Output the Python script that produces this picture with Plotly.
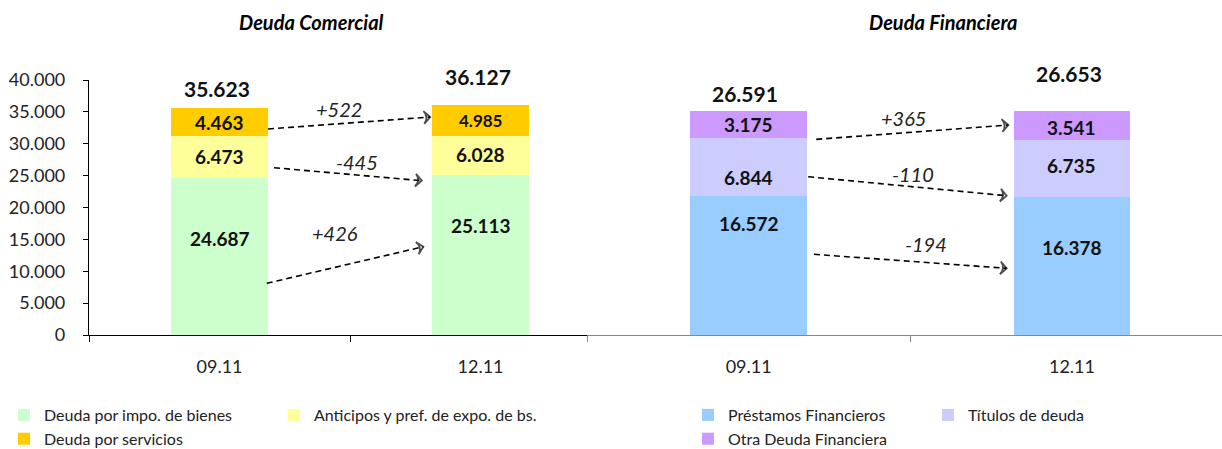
import plotly.graph_objects as go

# ---------------- data ----------------
dates = ["09.11", "12.11"]

com_names = ["Deuda por impo. de bienes", "Anticipos y pref. de expo. de bs.", "Deuda por servicios"]
com_impo = [24687, 25113]
com_antic = [6473, 6028]
com_serv = [4463, 4985]
com_total = [35623, 36127]
com_delta = [522, -445, 426]          # servicios, anticipos, impo

fin_names = ["Préstamos Financieros", "Títulos de deuda", "Otra Deuda Financiera"]
fin_prest = [16572, 16378]
fin_tit = [6844, 6735]
fin_otra = [3175, 3541]
fin_total = [26591, 26653]
fin_delta = [365, -110, -194]         # otra, titulos, prestamos

y_ticks = [0, 5000, 10000, 15000, 20000, 25000, 30000, 35000, 40000]

# ---------------- styling ----------------
FONT = "Lato"
com_colors = ["#CCFFCC", "#FFFF99", "#FFCC00"]
fin_colors = ["#99CCFF", "#CCCCFF", "#CC99FF"]
W, H = 1222, 449


def px_x(p):
    return p / W


def px_y(p):
    return (H - p) / H


def fmt(v):
    return f"{v:,}".replace(",", ".")


def fmt_delta(v):
    return ("+" if v > 0 else "") + fmt(v)


fig = go.Figure()
xs = [0, 1]

# bars
com_series = [com_impo, com_antic, com_serv]
fin_series = [fin_prest, fin_tit, fin_otra]
com_legend = ["legend", "legend2", "legend"]
fin_legend = ["legend3", "legend4", "legend3"]
for name, vals, col, lg in zip(com_names, com_series, com_colors, com_legend):
    fig.add_trace(go.Bar(x=xs, y=vals, name=name, marker=dict(color=col, line=dict(width=0)),
                         width=0.37, xaxis="x", yaxis="y", legend=lg, hoverinfo="y"))
for name, vals, col, lg in zip(fin_names, fin_series, fin_colors, fin_legend):
    fig.add_trace(go.Bar(x=xs, y=vals, name=name, marker=dict(color=col, line=dict(width=0)),
                         width=0.36, xaxis="x2", yaxis="y2", legend=lg, hoverinfo="y"))

annotations = []

# in-bar labels (relative position of label within each segment)
com_label_pos = [[0.616, 0.681], [0.5, 0.52], [0.5, 0.5]]
fin_label_pos = [[0.803, 0.638], [0.32, 0.567], [0.5, 0.45]]
com_label_size = [[19, 19], [19, 19], [19, 17]]


def add_segment_labels(series, pos, xref, yref, sizes=None):
    for i in range(2):
        base = 0
        for s, vals in enumerate(series):
            v = vals[i]
            annotations.append(dict(
                x=xs[i], y=base + v * pos[s][i], xref=xref, yref=yref, text=f"<b>{fmt(v)}</b>",
                xanchor="center", yanchor="middle",
                showarrow=False, font=dict(family=FONT, size=(sizes[s][i] if sizes else 19), color="#111")))
            base += v


add_segment_labels(com_series, com_label_pos, "x", "y", com_label_size)
add_segment_labels(fin_series, fin_label_pos, "x2", "y2")

# totals
com_total_shift = [19, 28]
fin_total_shift = [18, 37]
for i in range(2):
    annotations.append(dict(x=xs[i] - 0.01, y=sum(s[i] for s in com_series), xref="x", yref="y",
                            text=f"<b>{fmt(com_total[i])}</b>", showarrow=False, yshift=com_total_shift[i],
                            xanchor="center", yanchor="middle",
                            font=dict(family=FONT, size=21, color="#111")))
    annotations.append(dict(x=xs[i] - 0.01, y=sum(s[i] for s in fin_series), xref="x2", yref="y2",
                            text=f"<b>{fmt(fin_total[i])}</b>", showarrow=False, yshift=fin_total_shift[i],
                            xanchor="center", yanchor="middle",
                            font=dict(family=FONT, size=21, color="#111")))

# change arrows (hand-placed in the original)
com_arrows = [((0.186, 32314), (0.807, 34196)),
              ((0.209, 26243), (0.775, 24204)),
              ((0.181, 8110), (0.781, 13851))]
com_delta_pos = [(0.458, 35450), (0.527, 27180), (0.443, 16050)]
fin_arrows = [((0.209, 23249), (0.803, 24948)),
              ((0.184, 18806), (0.798, 16549)),
              ((0.202, 9587), (0.798, 7924))]
fin_delta_pos = [(0.478, 25815), (0.509, 19127), (0.547, 10775)]

for arrows, deltas, dpos, xa, ya in [(com_arrows, com_delta, com_delta_pos, "x", "y"),
                                       (fin_arrows, fin_delta, fin_delta_pos, "x2", "y2")]:
    for (p0, p1), d, (dx, dy) in zip(arrows, deltas, dpos):
        fig.add_trace(go.Scatter(
            x=[p0[0], p1[0]], y=[p0[1], p1[1]], xaxis=xa, yaxis=ya, mode="lines+markers",
            line=dict(color="#000", width=1.6, dash="6px,4px"),
            marker=dict(symbol=["circle", "arrow-wide-open"], size=[0, 9], angleref="previous",
                        color="#000", line=dict(color="#000", width=1.8)),
            showlegend=False, hoverinfo="skip"))
        annotations.append(dict(x=dx, y=dy, xref=xa, yref=ya, text=f"<i>{fmt_delta(d)}</i>",
                                xanchor="center", yanchor="middle",
                                showarrow=False, font=dict(family=FONT, size=20, color="#222")))

# titles
annotations.append(dict(x=px_x(311), y=px_y(22), xref="paper", yref="paper", text="<b><i>Deuda Comercial</i></b>",
                        xanchor="center", yanchor="middle",
                        showarrow=False, font=dict(family=FONT, size=20, color="#000")))
annotations.append(dict(x=px_x(943), y=px_y(22), xref="paper", yref="paper", text="<b><i>Deuda Financiera</i></b>",
                        xanchor="center", yanchor="middle",
                        showarrow=False, font=dict(family=FONT, size=20, color="#000")))

ydom = [px_y(335), px_y(80)]
legend_common = dict(orientation="v", bgcolor="rgba(0,0,0,0)", font=dict(family=FONT, size=16, color="#222"),
                     xanchor="left", yanchor="top", y=px_y(398), traceorder="normal", tracegroupgap=0,
                     itemclick=False, itemdoubleclick=False)

fig.update_layout(
    width=W, height=H, margin=dict(l=0, r=0, t=0, b=0, autoexpand=False),
    paper_bgcolor="white", plot_bgcolor="white",
    barmode="stack", separators=",.",
    font=dict(family=FONT, size=16, color="#222"),
    xaxis=dict(domain=[px_x(89), px_x(587)], range=[-0.5, 1.408], tickvals=xs, ticktext=dates,
               showgrid=False, zeroline=False, showline=True, linecolor="#000", linewidth=1.2,
               ticks="outside", ticklen=0, ticklabelstandoff=15, tickfont=dict(family=FONT, size=18, color="#222"),
               minor=dict(tickvals=[-0.5, 0.5, 1.5], ticks="outside", ticklen=6, tickcolor="#000"),
               automargin=False, fixedrange=True),
    yaxis=dict(domain=ydom, range=[0, 40000], tickvals=y_ticks, tickformat=",.0f", showgrid=False,
               zeroline=False, showline=True, linecolor="#000", linewidth=1.2, ticks="outside", ticklen=5,
               tickcolor="#000", ticklabelstandoff=14, tickfont=dict(family=FONT, size=18, color="#222"),
               automargin=False, fixedrange=True),
    xaxis2=dict(domain=[px_x(587), 1.0], range=[-0.5, 1.464], tickvals=xs, ticktext=dates,
                showgrid=False, zeroline=False, showline=True, linecolor="#888", linewidth=1.2,
                ticks="outside", ticklen=0, ticklabelstandoff=15, tickfont=dict(family=FONT, size=18, color="#222"),
                minor=dict(tickvals=[-0.5, 0.5, 1.5], ticks="outside", ticklen=6, tickcolor="#888"),
                anchor="y2", automargin=False, fixedrange=True),
    yaxis2=dict(domain=ydom, range=[0, 30300], visible=False, anchor="x2", fixedrange=True),
    legend=dict(legend_common, x=px_x(4)),
    legend2=dict(legend_common, x=px_x(274)),
    legend3=dict(legend_common, x=px_x(688)),
    legend4=dict(legend_common, x=px_x(928)),
    annotations=annotations,
    showlegend=True,
)

fig.write_html("out.html")
